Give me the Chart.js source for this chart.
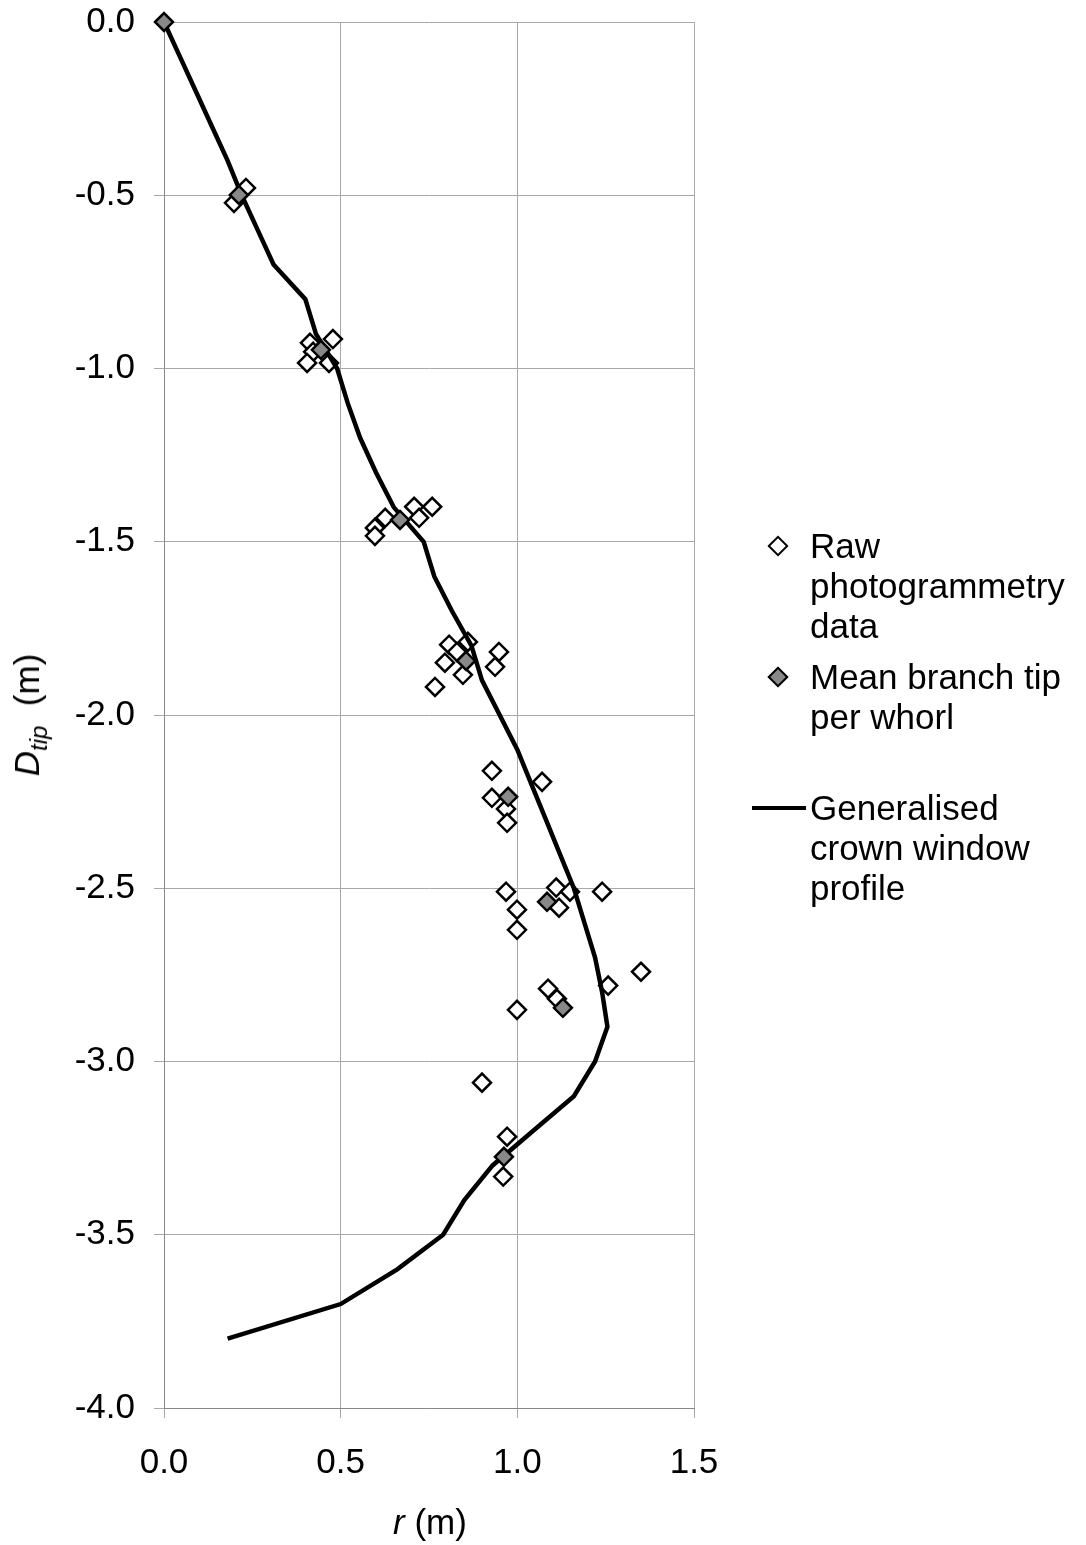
<!DOCTYPE html>
<html>
<head>
<meta charset="utf-8">
<script src="https://cdn.jsdelivr.net/npm/chart.js@4/dist/chart.umd.min.js"></script>
<style>
  html, body { margin: 0; padding: 0; background: #fff; }
  #wrap { position: relative; width: 1086px; height: 1545px; font-family: "Liberation Sans", Arial, sans-serif; color: #000; }
  #chart { position: absolute; left: 0; top: 0; }
  .ytitle { position: absolute; left: 30px; top: 715px; transform: translate(-50%, -50%) rotate(-90deg); font-size: 35px; white-space: nowrap; }
  .ytitle sub { font-size: 24px; vertical-align: -8px; }
  .xtitle { position: absolute; left: 430px; top: 1522px; transform: translate(-50%, -50%); font-size: 35px; white-space: nowrap; }
  .leg { position: absolute; left: 810px; font-size: 35px; line-height: 40px; white-space: nowrap; }
  .dia { position: absolute; width: 11px; height: 11px; border: 2px solid #000; transform: translate(-50%, -50%) rotate(45deg); }
  .lline { position: absolute; left: 752px; width: 54px; height: 4px; background: #000; }
</style>
</head>
<body>
<div id="wrap">
  <canvas id="chart" width="1086" height="1545"></canvas>
  <div class="ytitle"><i>D</i><sub><i>tip</i></sub>&nbsp; (m)</div>
  <div class="xtitle"><i>r</i> (m)</div>

  <div class="dia" style="left:778px; top:546px; background:#fff;"></div>
  <div class="leg" style="top:526px;">Raw<br>photogrammetry<br>data</div>

  <div class="dia" style="left:778px; top:677px; background:#888;"></div>
  <div class="leg" style="top:657px;">Mean branch tip<br>per whorl</div>

  <div class="lline" style="top:806px;"></div>
  <div class="leg" style="top:788px;">Generalised<br>crown window<br>profile</div>
</div>

<script>
// raw photogrammetry points (r, D)
const rawR = [0.232, 0.198, 0.478, 0.413, 0.422, 0.405, 0.467, 0.597, 0.597, 0.626, 0.708, 0.722, 0.759,
  0.807, 0.860, 0.795, 0.829, 0.846, 0.767, 0.948, 0.937, 0.928, 0.928, 0.968, 0.971, 1.070,
  0.968, 0.999, 0.999, 1.110, 1.149, 1.118, 1.240, 1.087, 1.112, 0.999, 1.257, 1.350, 0.900, 0.971, 0.960];
const rawD = [-0.479, -0.522, -0.915, -0.926, -0.952, -0.984, -0.984, -1.460, -1.483, -1.431, -1.399, -1.431, -1.399,
  -1.797, -1.789, -1.849, -1.818, -1.884, -1.919, -1.818, -1.861, -2.161, -2.239, -2.271, -2.311, -2.193,
  -2.510, -2.562, -2.620, -2.498, -2.510, -2.556, -2.510, -2.790, -2.819, -2.851, -2.781, -2.741, -3.061, -3.217, -3.332];

// mean branch tip per whorl
const meanR = [0, 0.212, 0.444, 0.668, 0.855, 0.974, 1.084, 1.129, 0.962];
const meanD = [0, -0.499, -0.946, -1.437, -1.844, -2.236, -2.539, -2.845, -3.275];

// generalised crown window profile
const profD = [0, -0.1, -0.2, -0.3, -0.4, -0.5, -0.6, -0.7, -0.8, -0.9, -1.0, -1.1, -1.2, -1.3, -1.4, -1.5,
  -1.6, -1.7, -1.8, -1.9, -2.0, -2.1, -2.2, -2.3, -2.4, -2.5, -2.6, -2.7, -2.8, -2.9, -3.0, -3.1,
  -3.2, -3.3, -3.4, -3.5, -3.6, -3.7, -3.8];
const profR = [0, 0.045, 0.09, 0.135, 0.18, 0.22, 0.265, 0.31, 0.40, 0.43, 0.49, 0.52, 0.555, 0.60, 0.65, 0.735,
  0.765, 0.815, 0.87, 0.90, 0.95, 1.0, 1.04, 1.08, 1.12, 1.16, 1.19, 1.22, 1.24, 1.255, 1.22, 1.16,
  1.045, 0.93, 0.85, 0.79, 0.66, 0.50, 0.18];

const xTicks = [0, 0.5, 1.0, 1.5];
const yTicks = [0, -0.5, -1.0, -1.5, -2.0, -2.5, -3.0, -3.5, -4.0];

const pts = (xs, ys) => xs.map((x, i) => ({ x: x, y: ys[i] }));

const tickFont = { family: "Liberation Sans, Arial, sans-serif", size: 35 };
const gridCol = "#a8a8a8";

new Chart(document.getElementById("chart"), {
  type: "scatter",
  data: {
    datasets: [
      {
        label: "Raw photogrammetry data",
        data: pts(rawR, rawD),
        pointStyle: "rectRot",
        pointRadius: 9,
        borderWidth: 2.5,
        borderColor: "#000",
        backgroundColor: "#fff",
        clip: false,
        order: 3
      },
      {
        label: "Generalised crown window profile",
        type: "line",
        data: pts(profR, profD),
        showLine: true,
        borderColor: "#000",
        borderWidth: 4.5,
        pointRadius: 0,
        fill: false,
        tension: 0,
        clip: false,
        order: 2
      },
      {
        label: "Mean branch tip per whorl",
        data: pts(meanR, meanD),
        pointStyle: "rectRot",
        pointRadius: 9,
        borderWidth: 2.5,
        borderColor: "#000",
        backgroundColor: "#888",
        clip: false,
        order: 1
      }
    ]
  },
  options: {
    responsive: false,
    animation: false,
    layout: { padding: { left: 0, right: 392, top: 22, bottom: 0 } },
    plugins: { legend: { display: false }, tooltip: { enabled: false } },
    scales: {
      x: {
        type: "linear",
        min: 0, max: 1.5,
        afterBuildTicks: s => { s.ticks = xTicks.map(v => ({ value: v })); },
        afterFit: s => { s.height = 137; s.paddingLeft = 0; s.paddingRight = 0; },
        ticks: { font: tickFont, color: "#000", padding: 24, callback: v => v.toFixed(1) },
        grid: { color: gridCol, tickLength: 10, lineWidth: 1 },
        border: { color: "#888", width: 1 }
      },
      y: {
        type: "linear",
        min: -4, max: 0,
        afterBuildTicks: s => { s.ticks = yTicks.map(v => ({ value: v })); },
        afterFit: s => { s.width = 164; s.paddingTop = 0; s.paddingBottom = 0; },
        ticks: { font: tickFont, color: "#000", padding: 19, callback: v => v.toFixed(1) },
        grid: { color: gridCol, tickLength: 10, lineWidth: 1 },
        border: { color: "#888", width: 1 }
      }
    }
  }
});
</script>
</body>
</html>
